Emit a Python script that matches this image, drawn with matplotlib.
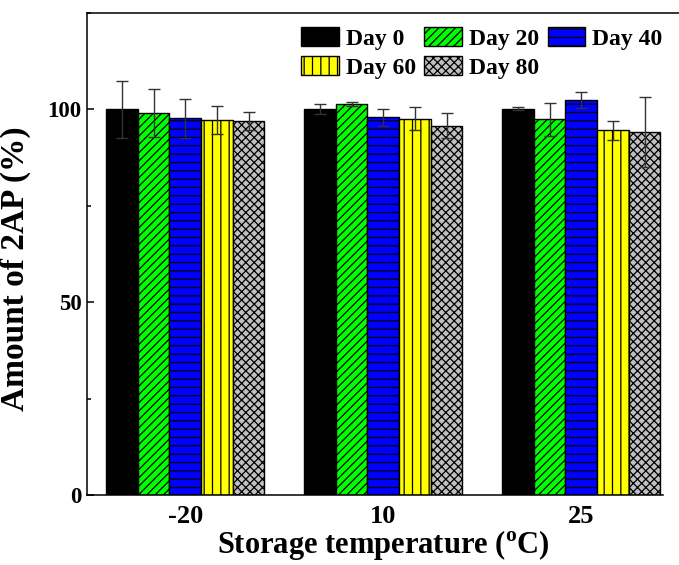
import numpy as np
import matplotlib
matplotlib.use("Agg")
import matplotlib.pyplot as plt
from matplotlib.ticker import MultipleLocator

plt.rcParams["font.family"] = ["Liberation Serif", "DejaVu Serif"]
plt.rcParams["font.weight"] = "bold"
plt.rcParams["mathtext.fontset"] = "custom"
plt.rcParams["mathtext.rm"] = "Liberation Serif:bold"
plt.rcParams["hatch.linewidth"] = 0.9

temps = ["-20", "10", "25"]
days = ["Day 0", "Day 20", "Day 40", "Day 60", "Day 80"]

amount = {
    "Day 0": [100.0, 100.1, 100.2],
    "Day 20": [99.1, 101.5, 97.4],
    "Day 40": [97.7, 98.0, 102.4],
    "Day 60": [97.2, 97.6, 94.6],
    "Day 80": [97.0, 95.8, 94.1],
}
err = {
    "Day 0": [7.4, 1.4, 0.3],
    "Day 20": [6.2, 0.5, 4.3],
    "Day 40": [5.0, 2.2, 2.1],
    "Day 60": [3.7, 3.0, 2.5],
    "Day 80": [2.3, 3.2, 9.0],
}

colors = ["#000000", "#00ff00", "#0000ff", "#ffff00", "#c0c0c0"]
hatches = ["", "////", "--", "||", "xxxx"]

fig = plt.figure(figsize=(6.79, 5.65), dpi=100)
ax = fig.add_axes([87 / 679, 1 - 495 / 565, 1 - 87 / 679, (495 - 13) / 565])

x = np.arange(len(temps))
width = 0.16
handles = []
for i, d in enumerate(days):
    pos = x - 0.4 + width / 2 + i * width
    b = ax.bar(pos, amount[d], width, color=colors[i], edgecolor="black",
               linewidth=1.0, hatch=hatches[i], label=d, zorder=2)
    handles.append(b)
    ax.errorbar(pos, amount[d], yerr=err[d], fmt="none", ecolor="#333333",
                elinewidth=1.0, capsize=4, capthick=1.0, zorder=3)

ax.set_xlim(-0.496, 2.494)
ax.set_ylim(0, 125)
ax.spines["right"].set_visible(False)
ax.spines["bottom"].set_bounds(-0.496, 2.415)
for s in ["left", "bottom", "top"]:
    ax.spines[s].set_linewidth(1.1)

ax.set_xticks(x)
ax.set_xticklabels(temps)
ax.tick_params(axis="x", length=0, pad=7, labelsize=19)
ax.set_yticks([0, 50, 100])
ax.yaxis.set_minor_locator(MultipleLocator(25))
ax.tick_params(axis="y", which="major", direction="in", length=5, width=1.1,
               pad=4, labelsize=16.5)
ax.tick_params(axis="y", which="minor", direction="in", length=3, width=1.1)
ax.tick_params(axis="y", which="both", right=False)

ax.set_ylabel("Amount of 2AP (%)", fontsize=24, fontweight="bold")
ax.yaxis.set_label_coords(-0.094, 0.47)
ax.set_xlabel(r"Storage temperature ($^{\mathrm{o}}$C)", fontsize=22,
              fontweight="bold", labelpad=0)

# legend is filled row by row in the reference
order = [0, 3, 1, 4, 2]
ax.legend([handles[k] for k in order], [days[k] for k in order],
          ncol=3, loc="upper left", bbox_to_anchor=(301 / 679, 1 - 27 / 565),
          bbox_transform=fig.transFigure, frameon=False, fontsize=17,
          handlelength=1.6, handleheight=0.85, handletextpad=0.3,
          columnspacing=0.35, labelspacing=0.27, borderpad=0, borderaxespad=0)

fig.savefig("out.png", dpi=100)
